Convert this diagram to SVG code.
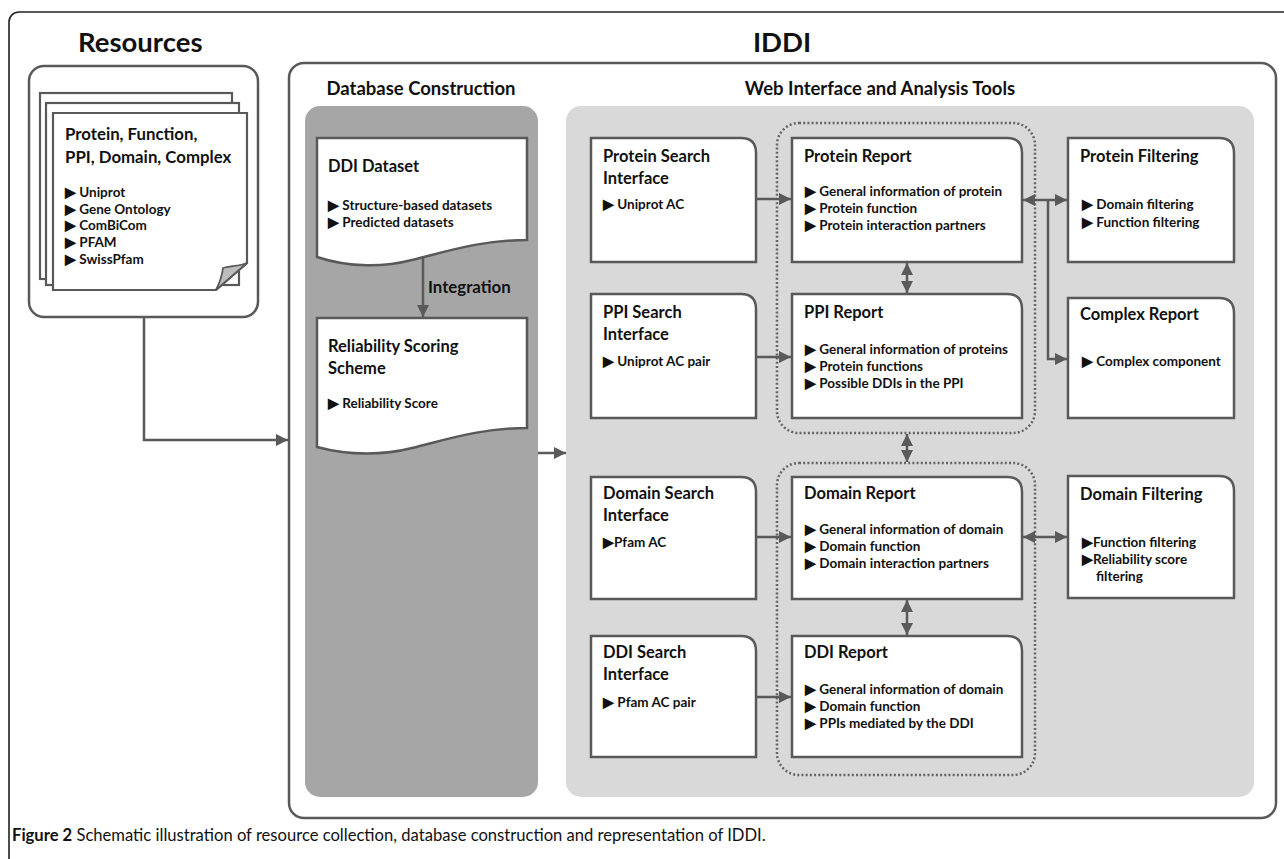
<svg xmlns="http://www.w3.org/2000/svg" width="1284" height="859" viewBox="0 0 1284 859">
<defs>
<style>
text{font-family:Lato,"Open Sans","Liberation Sans",sans-serif;fill:#111;}
.h1{font-size:27.5px;font-weight:bold;}
.h2{font-size:18.5px;font-weight:bold;}
.r{font-size:16.8px;font-weight:bold;}
.t{font-size:16.5px;font-weight:bold;}
.b{font-size:13.5px;font-weight:bold;}
.cap{font-size:16.6px;}
.box{fill:#fff;stroke:#595959;stroke-width:2.5;}
.frame{fill:#fff;stroke:#595959;stroke-width:2.5;}
.dot{fill:none;stroke:#666;stroke-width:2.5;stroke-dasharray:2 2.2;}
.ln{fill:none;stroke:#5a5a5a;stroke-width:2.5;}
</style>
<marker id="ah" viewBox="0 0 10 10" refX="10" refY="5" markerWidth="12" markerHeight="12" markerUnits="userSpaceOnUse" orient="auto-start-reverse">
<path d="M0,0 L10,5 L0,10 z" fill="#5a5a5a"/>
</marker>
</defs>
<rect x="0" y="0" width="1284" height="859" fill="#fff"/>
<rect x="9" y="12" width="1290" height="870" rx="10" fill="none" stroke="#222" stroke-width="1.6"/>

<text class="h1" x="78" y="52">Resources</text>
<text class="h1" x="782" y="52" text-anchor="middle">IDDI</text>

<g id="resources">
<rect class="frame" x="29" y="66" width="229" height="251" rx="15"/>
<rect x="40" y="93" width="192" height="186" fill="#fff" stroke="#595959" stroke-width="2.2"/>
<rect x="46" y="103" width="193" height="182" fill="#fff" stroke="#595959" stroke-width="2.2"/>
<path d="M53,113 H247 V263 L216,290 H53 Z" fill="#fff" stroke="#595959" stroke-width="2.2"/>
<path d="M247,263 C240,266 230,266 223,268 C222,276 219,284 216,290 Z" fill="#bdbdbd" stroke="#595959" stroke-width="1.8"/>
<text class="r" x="65" y="140">Protein, Function,</text>
<text class="r" x="65" y="163">PPI, Domain, Complex</text>
<text class="b" x="65" y="197">▶ Uniprot</text>
<text class="b" x="65" y="213.5">▶ Gene Ontology</text>
<text class="b" x="65" y="230">▶ ComBiCom</text>
<text class="b" x="65" y="247">▶ PFAM</text>
<text class="b" x="65" y="264">▶ SwissPfam</text>
</g>

<g id="iddi">
<rect class="frame" x="289" y="63" width="987" height="755" rx="15"/>
<text class="h2" x="421" y="95" text-anchor="middle">Database Construction</text>
<text class="h2" x="880" y="95" text-anchor="middle">Web Interface and Analysis Tools</text>
<rect x="305" y="106" width="233" height="691" rx="15" fill="#a6a6a6"/>
<rect x="566" y="106" width="688" height="691" rx="15" fill="#d9d9d9"/>
</g>

<g id="ddi-dataset">
<path class="box" d="M317,138 H527 V240 C480,240 445,252 412,260 C385,267 350,268 317,257 Z"/>
<text class="t" x="328" y="172">DDI Dataset</text>
<text class="b" x="328" y="210">▶ Structure-based datasets</text>
<text class="b" x="328" y="227">▶ Predicted datasets</text>
</g>

<g id="reliability">
<path class="box" d="M317,318 H527 V428 C480,428 445,440 412,448 C385,455 350,456 317,447 Z"/>
<text class="t" x="328" y="352">Reliability Scoring</text>
<text class="t" x="328" y="374">Scheme</text>
<text class="b" x="328" y="408">▶ Reliability Score</text>
</g>

<g id="dotted-groups">
<rect class="dot" x="777" y="123" width="258" height="310" rx="22"/>
<rect class="dot" x="777" y="463" width="258" height="312" rx="22"/>
</g>

<g id="protein-search">
<path class="box" d="M591,138 H741 Q756,138 756,153 V262 H591 Z"/>
<text class="t" x="603" y="162">Protein Search</text>
<text class="t" x="603" y="184">Interface</text>
<text class="b" x="603" y="209">▶ Uniprot AC</text>
</g>
<g id="ppi-search">
<path class="box" d="M591,294 H741 Q756,294 756,309 V418 H591 Z"/>
<text class="t" x="603" y="318">PPI Search</text>
<text class="t" x="603" y="340">Interface</text>
<text class="b" x="603" y="366">▶ Uniprot AC pair</text>
</g>
<g id="domain-search">
<path class="box" d="M591,477 H741 Q756,477 756,492 V599 H591 Z"/>
<text class="t" x="603" y="499">Domain Search</text>
<text class="t" x="603" y="521">Interface</text>
<text class="b" x="603" y="547">▶Pfam AC</text>
</g>
<g id="ddi-search">
<path class="box" d="M591,636 H741 Q756,636 756,651 V757 H591 Z"/>
<text class="t" x="603" y="658">DDI Search</text>
<text class="t" x="603" y="680">Interface</text>
<text class="b" x="603" y="707">▶ Pfam AC pair</text>
</g>

<g id="protein-report">
<path class="box" d="M792,138 H1007 Q1022,138 1022,153 V262 H792 Z"/>
<text class="t" x="804" y="162">Protein Report</text>
<text class="b" x="805" y="196">▶ General information of protein</text>
<text class="b" x="805" y="213">▶ Protein function</text>
<text class="b" x="805" y="230">▶ Protein interaction partners</text>
</g>
<g id="ppi-report">
<path class="box" d="M792,294 H1007 Q1022,294 1022,309 V418 H792 Z"/>
<text class="t" x="804" y="318">PPI Report</text>
<text class="b" x="805" y="354">▶ General information of proteins</text>
<text class="b" x="805" y="371">▶ Protein functions</text>
<text class="b" x="805" y="388">▶ Possible DDIs in the PPI</text>
</g>
<g id="domain-report">
<path class="box" d="M792,477 H1007 Q1022,477 1022,492 V599 H792 Z"/>
<text class="t" x="804" y="499">Domain Report</text>
<text class="b" x="805" y="534">▶ General information of domain</text>
<text class="b" x="805" y="551">▶ Domain function</text>
<text class="b" x="805" y="568">▶ Domain interaction partners</text>
</g>
<g id="ddi-report">
<path class="box" d="M792,636 H1007 Q1022,636 1022,651 V757 H792 Z"/>
<text class="t" x="804" y="658">DDI Report</text>
<text class="b" x="805" y="694">▶ General information of domain</text>
<text class="b" x="805" y="711">▶ Domain function</text>
<text class="b" x="805" y="728">▶ PPIs mediated by the DDI</text>
</g>

<g id="protein-filtering">
<path class="box" d="M1068,138 H1219 Q1234,138 1234,153 V262 H1068 Z"/>
<text class="t" x="1080" y="162">Protein Filtering</text>
<text class="b" x="1082" y="209">▶ Domain filtering</text>
<text class="b" x="1082" y="227">▶ Function filtering</text>
</g>
<g id="complex-report">
<path class="box" d="M1068,298 H1219 Q1234,298 1234,313 V418 H1068 Z"/>
<text class="t" x="1080" y="320">Complex Report</text>
<text class="b" x="1082" y="366">▶ Complex component</text>
</g>
<g id="domain-filtering">
<path class="box" d="M1068,476 H1219 Q1234,476 1234,491 V598 H1068 Z"/>
<text class="t" x="1080" y="500">Domain Filtering</text>
<text class="b" x="1082" y="547">▶Function filtering</text>
<text class="b" x="1082" y="564">▶Reliability score</text>
<text class="b" x="1096" y="581">filtering</text>
</g>

<g id="connectors">
<path class="ln" d="M144,317 V440 H288" marker-end="url(#ah)"/>
<path class="ln" d="M423,258 V317" marker-end="url(#ah)"/>
<path class="ln" d="M538,453 H566" marker-end="url(#ah)"/>
<path class="ln" d="M756,199 H791" marker-end="url(#ah)"/>
<path class="ln" d="M756,357 H791" marker-end="url(#ah)"/>
<path class="ln" d="M756,537 H791" marker-end="url(#ah)"/>
<path class="ln" d="M756,697 H791" marker-end="url(#ah)"/>
<path class="ln" d="M907,263 V293" marker-start="url(#ah)" marker-end="url(#ah)"/>
<path class="ln" d="M907,434 V462" marker-start="url(#ah)" marker-end="url(#ah)"/>
<path class="ln" d="M907,600 V635" marker-start="url(#ah)" marker-end="url(#ah)"/>
<path class="ln" d="M1023,200 H1067" marker-start="url(#ah)" marker-end="url(#ah)"/>
<path class="ln" d="M1048,200 V359 H1067" marker-end="url(#ah)"/>
<path class="ln" d="M1023,537 H1067" marker-start="url(#ah)" marker-end="url(#ah)"/>
</g>
<text class="r" x="428" y="293">Integration</text>

<text class="cap" x="12" y="841"><tspan font-weight="bold">Figure 2</tspan> Schematic illustration of resource collection, database construction and representation of IDDI.</text>
</svg>
